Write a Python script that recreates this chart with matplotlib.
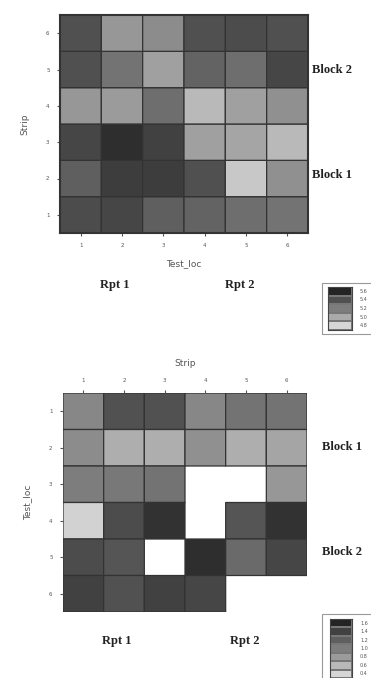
import numpy as np
import matplotlib
matplotlib.use("Agg")
import matplotlib.pyplot as plt
from matplotlib.colors import LinearSegmentedColormap
from matplotlib.patches import Rectangle

W, H = 371, 678

# trial 1: strips (rows, bottom to top) x test locations (columns)
ticks = [1, 2, 3, 4, 5, 6]
trial1 = np.array([
    [5.53, 5.57, 5.40, 5.37, 5.30, 5.27],   # strip 1
    [5.40, 5.63, 5.63, 5.50, 4.70, 5.07],   # strip 2
    [5.57, 5.73, 5.60, 4.97, 4.93, 4.80],   # strip 3
    [5.03, 5.00, 5.30, 4.80, 4.97, 5.07],   # strip 4
    [5.50, 5.27, 4.97, 5.37, 5.30, 5.57],   # strip 5
    [5.50, 5.03, 5.10, 5.50, 5.53, 5.50],   # strip 6
])
legend1_labels = ["5.6", "5.4", "5.2", "5.0", "4.8"]

# trial 2: test locations (rows, top to bottom) x strips (columns), nan = missing
nan = np.nan
trial2 = np.array([
    [0.93, 1.30, 1.30, 0.93, 1.07, 1.07],   # loc 1
    [0.90, 0.67, 0.67, 0.87, 0.67, 0.73],   # loc 2
    [1.00, 1.03, 1.07, nan, nan, 0.83],     # loc 3
    [0.43, 1.33, 1.50, nan, 1.27, 1.50],    # loc 4
    [1.33, 1.27, nan, 1.53, 1.13, 1.37],    # loc 5
    [1.40, 1.30, 1.40, 1.37, nan, nan],     # loc 6
])
legend2_labels = ["1.6", "1.4", "1.2", "1.0", "0.8", "0.6", "0.4"]

grey = LinearSegmentedColormap.from_list("grey", [(0.84, 0.84, 0.84), (0.14, 0.14, 0.14)])
edge = "#333333"
tick_c = "#555555"


def fx(x):
    return x / W


def fy(y):
    return 1 - y / H


fig = plt.figure(figsize=(W / 100, H / 100), dpi=100)
fig.patch.set_facecolor("white")

serif = dict(family="Liberation Serif", weight="bold", fontsize=9, color="#222222")
small = dict(fontsize=3.5, color=tick_c)

# ---- top heatmap ----
ax1 = fig.add_axes([fx(60), fy(233), fx(308) - fx(60), fy(15) - fy(233)])
ax1.pcolor(np.arange(0.5, 7), np.arange(0.5, 7), np.ma.masked_invalid(trial1),
           cmap=grey, vmin=4.6, vmax=5.8, edgecolors=edge, linewidth=0.9)
ax1.set_xlim(0.5, 6.5)
ax1.set_ylim(0.5, 6.5)
ax1.set_xticks(ticks)
ax1.set_yticks(ticks)
ax1.tick_params(length=2.5, width=0.8, color=tick_c, labelsize=4, labelcolor=tick_c, pad=5)
for s in ax1.spines.values():
    s.set_linewidth(1.5)
    s.set_color(edge)
ax1.set_xlabel("Test_loc", fontsize=6.5, color=tick_c, labelpad=8)
ax1.set_ylabel("Strip", fontsize=6.5, color=tick_c, labelpad=12)

fig.text(fx(312), fy(70), "Block 2", va="center", ha="left", **serif)
fig.text(fx(312), fy(175), "Block 1", va="center", ha="left", **serif)
fig.text(fx(115), fy(285), "Rpt 1", va="center", ha="center", **serif)
fig.text(fx(240), fy(285), "Rpt 2", va="center", ha="center", **serif)

# ---- bottom heatmap (missing plots left blank) ----
ax2 = fig.add_axes([fx(63), fy(612), fx(307) - fx(63), fy(393) - fy(612)])
ax2.pcolor(np.arange(0.5, 7), np.arange(0.5, 7), np.ma.masked_invalid(trial2),
           cmap=grey, vmin=0.4, vmax=1.6, edgecolors=edge, linewidth=0.9)
ax2.set_xlim(0.5, 6.5)
ax2.set_ylim(6.5, 0.5)
ax2.set_xticks(ticks)
ax2.set_yticks(ticks)
ax2.xaxis.tick_top()
ax2.xaxis.set_label_position("top")
ax2.tick_params(length=2.5, width=0.8, color=tick_c, labelsize=4, labelcolor=tick_c, pad=5)
for s in ax2.spines.values():
    s.set_visible(False)
ax2.set_xlabel("Strip", fontsize=6.5, color=tick_c, labelpad=8)
ax2.set_ylabel("Test_loc", fontsize=6.5, color=tick_c, labelpad=12)

fig.text(fx(322), fy(447), "Block 1", va="center", ha="left", **serif)
fig.text(fx(322), fy(552), "Block 2", va="center", ha="left", **serif)
fig.text(fx(117), fy(641), "Rpt 1", va="center", ha="center", **serif)
fig.text(fx(245), fy(641), "Rpt 2", va="center", ha="center", **serif)


# ---- legends ----
def legend(box, swatch, labels, vmin, vmax):
    x0, y0, x1, y1 = box
    fig.patches.append(Rectangle((fx(x0), fy(y1)), fx(x1) - fx(x0), fy(y0) - fy(y1),
                                 transform=fig.transFigure, fill=False,
                                 edgecolor="#999999", linewidth=0.8))
    sx0, sy0, sx1, sy1 = swatch
    lax = fig.add_axes([fx(sx0), fy(sy1), fx(sx1) - fx(sx0), fy(sy0) - fy(sy1)])
    vals = np.linspace(vmax, vmin, len(labels))
    lax.pcolormesh(np.array([0, 1]), np.arange(len(labels) + 1), vals[:, None],
                   cmap=grey, vmin=vmin, vmax=vmax, edgecolors="#777777", linewidth=0.3)
    lax.set_ylim(len(labels), 0)
    lax.set_xticks([])
    lax.set_yticks([])
    for s in lax.spines.values():
        s.set_color("#444444")
        s.set_linewidth(0.8)
    step = (sy1 - sy0) / len(labels)
    for i, lab in enumerate(labels):
        fig.text(fx(sx1 + 8), fy(sy0 + step * (i + 0.5)), lab, va="center", ha="left", **small)


legend((322, 283, 380, 334), (328, 287, 352, 330), legend1_labels, 4.6, 5.8)
legend((322, 614, 380, 690), (330, 619, 352, 678), legend2_labels, 0.4, 1.6)

fig.savefig("out.png", dpi=100, facecolor="white")
